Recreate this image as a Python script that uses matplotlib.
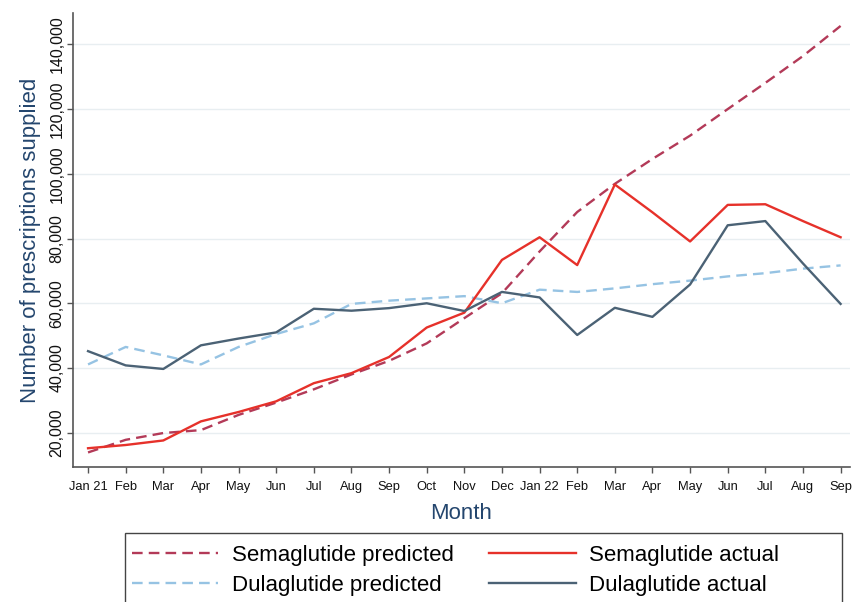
import matplotlib
matplotlib.use("Agg")
import matplotlib.pyplot as plt
from matplotlib.patches import Rectangle
from matplotlib.ticker import FuncFormatter

months = ["Jan 21", "Feb", "Mar", "Apr", "May", "Jun", "Jul", "Aug", "Sep", "Oct",
          "Nov", "Dec", "Jan 22", "Feb", "Mar", "Apr", "May", "Jun", "Jul", "Aug", "Sep"]

sema_predicted = [13900, 17800, 19900, 20800, 25500, 29300, 33400, 38000, 42200, 47600,
                  55400, 63100, 76000, 88200, 96900, 104600, 111800, 120000, 128100,
                  136400, 145700]
sema_actual = [15200, 16200, 17600, 23500, 26400, 29700, 35300, 38400, 43400, 52500,
               57100, 73400, 80400, 71800, 96700, 88100, 79100, 90400, 90600, 85400,
               80400]
dula_predicted = [41100, 46500, 43900, 41100, 46500, 50500, 53800, 59800, 60800, 61500,
                  62200, 60000, 64200, 63500, 64600, 65900, 67000, 68300, 69300, 70700,
                  71700]
dula_actual = [45200, 40800, 39700, 47000, 49100, 51000, 58300, 57700, 58500, 60000,
               57600, 63500, 61800, 50200, 58600, 55800, 65800, 84100, 85400, 72300,
               59800]

y_ticks = [20000, 40000, 60000, 80000, 100000, 120000, 140000]

plt.rcParams["font.family"] = ["Liberation Sans", "DejaVu Sans"]

W, H = 853, 602
fig = plt.figure(figsize=(W / 100, H / 100), dpi=100)
ax = fig.add_axes([73 / W, 1 - 467 / H, (850 - 73) / W, (467 - 13) / H])

x = list(range(len(months)))
label_col = "#24466e"

ax.plot(x, sema_predicted, color="#b33a58", lw=1.7, dashes=(4.5, 2.6),
        label="Semaglutide predicted")
ax.plot(x, dula_predicted, color="#96c3e3", lw=1.7, dashes=(4.5, 2.6),
        label="Dulaglutide predicted")
ax.plot(x, sema_actual, color="#e6312a", lw=1.7, label="Semaglutide actual")
ax.plot(x, dula_actual, color="#4b6275", lw=1.7, label="Dulaglutide actual")

ax.set_xlim(-0.4, 20.25)
ax.set_ylim(9400, 149700)
ax.set_xticks(x)
ax.set_xticklabels(months, fontsize=9.3)
ax.set_yticks(y_ticks)
ax.yaxis.set_major_formatter(FuncFormatter(lambda v, p: f"{int(v):,}"))
for lab in ax.get_yticklabels():
    lab.set_rotation(90)
    lab.set_va("center")
    lab.set_fontsize(11.5)

ax.grid(axis="y", color="#e8eef1", lw=1)
ax.set_axisbelow(True)
for s in ["top", "right"]:
    ax.spines[s].set_visible(False)
for s in ["left", "bottom"]:
    ax.spines[s].set_color("#555555")
    ax.spines[s].set_linewidth(1.2)
ax.tick_params(axis="both", direction="out", length=4, width=1, color="#555555",
               labelcolor="#111111")
ax.tick_params(axis="x", pad=6)
ax.tick_params(axis="y", pad=2)

ax.set_ylabel("Number of prescriptions supplied", fontsize=16, color=label_col,
              labelpad=6)
ax.set_xlabel("Month", fontsize=16, color=label_col, labelpad=7)

handles, labels = ax.get_legend_handles_labels()
fig.legend(handles, labels, ncol=2, loc="upper left",
           bbox_to_anchor=(114 / W, 1 - 527 / H), frameon=False, fontsize=16,
           handlelength=3.9, handletextpad=0.6, columnspacing=1.6,
           labelspacing=0.42, borderpad=0.3)
fig.add_artist(Rectangle((125 / W, 1 - 615 / H), (842 - 125) / W, (615 - 533) / H,
                         transform=fig.transFigure, fill=False, edgecolor="#444444",
                         lw=1.0))

fig.savefig("out.png", dpi=100)
